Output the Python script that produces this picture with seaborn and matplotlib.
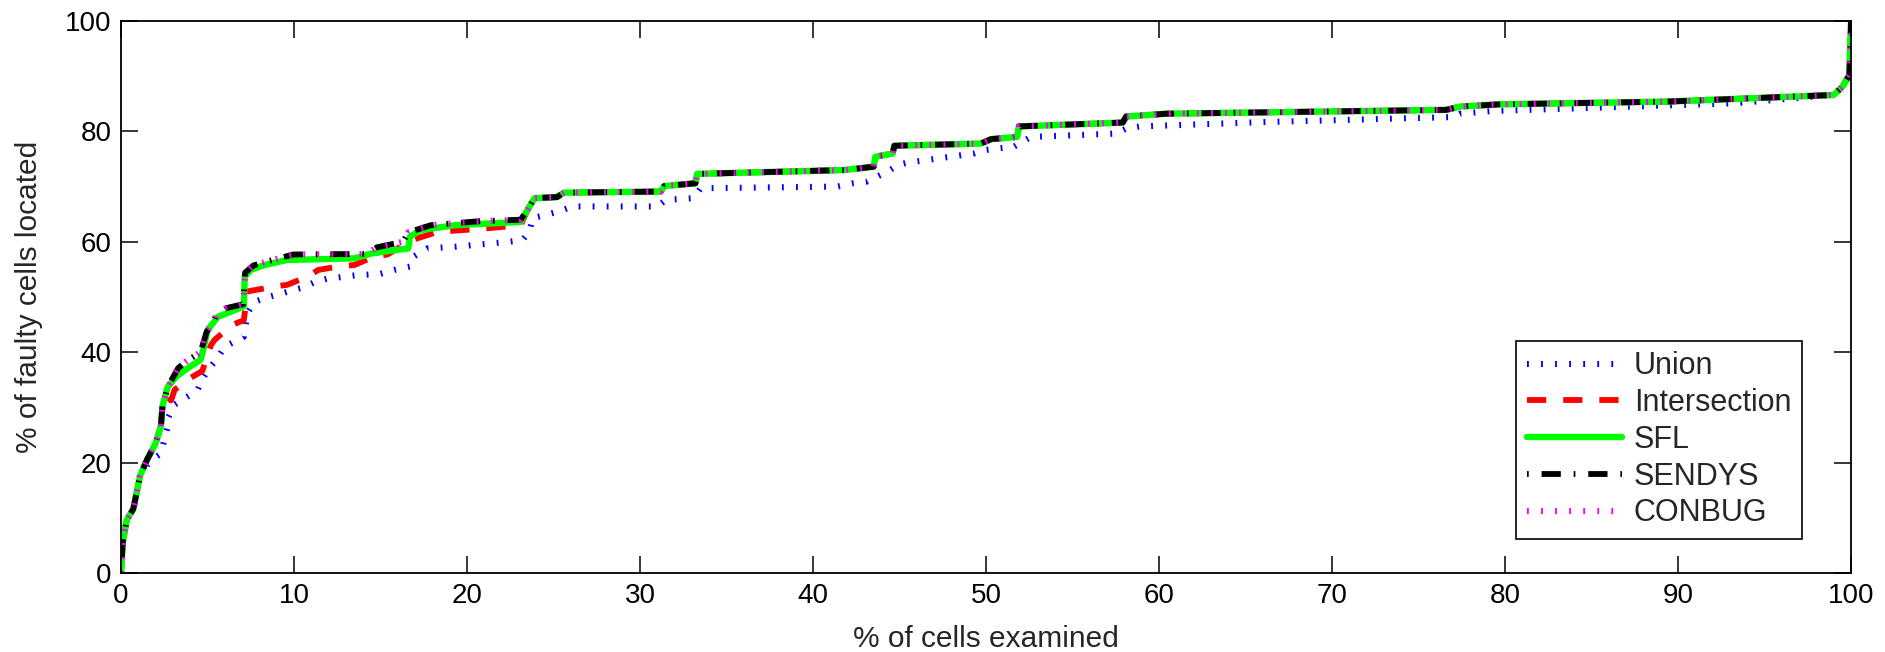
import numpy as np
import pandas as pd
import matplotlib
matplotlib.use("Agg")
import matplotlib.pyplot as plt
import seaborn as sns

# ---------------- data ----------------
sfl_x = [0, 0.1, 0.33, 0.71, 1.1, 1.5, 2.0, 2.3, 2.4, 2.7,
         3.2, 3.85, 4.6, 4.8, 5.0, 5.6, 6.4, 7.1, 7.15, 7.5,
         8.3, 9.6, 13.5, 14.5, 16.6, 16.7, 17.3, 19.3, 23.1, 23.5,
         23.9, 25.2, 25.6, 31.2, 31.4, 33.2, 33.3, 41.8, 43.5, 43.6,
         44.6, 44.7, 49.7, 50.3, 51.8, 51.9, 57.9, 58.1, 60.4, 76.6,
         77.4, 79.7, 89.4, 99.0, 99.5, 99.9, 100]
sfl_y = [0, 5.5, 9.6, 11.6, 17.6, 20.5, 23.5, 26.5, 30.3, 33.7,
         35.6, 37.1, 38.6, 41.0, 44.0, 46.4, 47.4, 48.3, 53.7, 54.9,
         55.8, 56.7, 57.0, 57.9, 58.8, 60.9, 62.1, 63.0, 63.6, 65.8,
         67.9, 68.1, 68.9, 69.1, 70.1, 70.6, 72.3, 73.0, 73.6, 75.4,
         76.0, 77.4, 77.8, 78.6, 79.0, 80.9, 81.6, 82.7, 83.2, 83.9,
         84.5, 84.9, 85.4, 86.6, 88.1, 90.2, 100]

sendys_x = [0, 0.1, 0.33, 0.71, 1.1, 1.5, 2.0, 2.3, 2.4, 2.7,
            3.3, 3.75, 4.6, 4.95, 5.3, 5.5, 6.1, 7.07, 7.17, 7.65,
            8.4, 9.96, 14.2, 14.8, 16.3, 16.6, 17.9, 20.6, 23.1, 23.5,
            23.9, 25.2, 25.6, 31.2, 31.4, 33.2, 33.3, 41.8, 43.5, 43.6,
            44.6, 44.7, 49.7, 50.3, 51.8, 51.9, 57.9, 58.1, 60.4, 76.6,
            77.4, 79.7, 89.4, 99.0, 99.5, 99.9, 100]
sendys_y = [0, 5.5, 9.6, 11.6, 17.6, 20.5, 23.5, 26.5, 30.3, 33.7,
            37.1, 38.3, 40.0, 43.7, 45.0, 46.7, 48.0, 48.7, 54.4, 55.7,
            56.4, 57.7, 57.8, 59.0, 60.0, 61.7, 63.0, 63.7, 64.0, 65.8,
            67.9, 68.1, 68.9, 69.1, 70.1, 70.6, 72.3, 73.0, 73.6, 75.4,
            76.0, 77.4, 77.8, 78.6, 79.0, 80.9, 81.6, 82.7, 83.2, 83.9,
            84.5, 84.9, 85.4, 86.6, 88.1, 90.2, 100]

conbug_x = list(sendys_x)
conbug_y = list(sendys_y)

inter_x = [0, 0.1, 0.33, 0.71, 1.1, 1.5, 2.0, 2.3, 2.4, 2.7,
           2.9, 3.1, 4.05, 4.7, 5.2, 5.4, 6.4, 7.1, 7.3, 8.9,
           9.6, 10.8, 11.4, 12.5, 13.5, 14.6, 15.4, 16.8, 18.3, 21.0,
           23.1, 23.5, 23.9, 25.2, 25.6, 31.2, 31.4, 33.2, 33.3, 41.8,
           43.5, 43.6, 44.6, 44.7, 49.7, 50.3, 51.8, 51.9, 57.9, 58.1,
           60.4, 76.6, 77.4, 79.7, 89.4, 99.0, 99.5, 99.9, 100]
inter_y = [0, 5.5, 9.6, 11.6, 17.6, 20.5, 23.5, 26.5, 30.0, 31.3,
           31.3, 33.2, 35.4, 36.6, 41.3, 42.2, 44.9, 45.8, 51.0, 51.9,
           52.2, 53.7, 54.9, 55.5, 55.8, 57.3, 57.7, 60.3, 61.8, 62.4,
           63.0, 65.8, 67.9, 68.1, 68.9, 69.1, 70.1, 70.6, 72.3, 73.0,
           73.6, 75.4, 76.0, 77.4, 77.8, 78.6, 79.0, 80.9, 81.6, 82.7,
           83.2, 83.9, 84.5, 84.9, 85.4, 86.6, 88.1, 90.2, 100]

union_x = [0, 0.1, 0.33, 0.71, 1.1, 1.5, 2.0, 2.3, 2.7, 2.75,
           3.1, 3.7, 4.4, 4.7, 5.1, 5.5, 6.0, 6.55, 7.1, 7.3,
           7.7, 8.5, 9.25, 9.9, 10.6, 11.2, 11.9, 13.5, 15.0, 15.8,
           16.7, 16.9, 17.7, 19.3, 22.4, 23.2, 23.6, 23.8, 24.6, 25.3,
           26.1, 31.0, 31.5, 33.1, 33.5, 41.4, 42.3, 43.1, 43.7, 44.3,
           44.9, 45.4, 49.3, 49.9, 50.6, 51.6, 52.6, 57.5, 58.1, 58.9,
           66.2, 77.0, 77.4, 79.3, 93.3, 99.0, 99.5, 99.9, 100]
union_y = [0, 5.5, 9.6, 11.6, 17.6, 19.5, 21.0, 21.6, 26.5, 28.3,
           30.5, 31.7, 33.0, 35.1, 37.1, 38.6, 41.0, 41.9, 42.8, 47.0,
           49.1, 50.0, 50.6, 51.2, 51.8, 52.7, 53.3, 53.9, 54.2, 54.9,
           55.5, 57.3, 58.8, 59.1, 60.0, 60.3, 61.8, 64.3, 64.9, 65.5,
           66.4, 66.4, 67.6, 67.9, 69.7, 70.0, 70.6, 70.9, 71.8, 72.7,
           73.9, 74.3, 76.0, 76.6, 76.9, 77.2, 79.0, 79.6, 80.5, 80.9,
           81.7, 82.6, 83.2, 83.7, 85.1, 86.6, 88.1, 90.2, 100]

series_names = ["Union", "Intersection", "SFL", "SENDYS", "CONBUG"]
x_ticks = [0, 10, 20, 30, 40, 50, 60, 70, 80, 90, 100]
y_ticks = [0, 20, 40, 60, 80, 100]

# ---------------- style ----------------
sns.set_style("ticks")
plt.rcParams["font.family"] = ["Liberation Sans", "DejaVu Sans"]

fig = plt.figure(figsize=(18.85, 6.52), dpi=100)
ax = fig.add_axes([0.0642, 0.1212, 0.9178, 0.8466])

styles = {
    "Union":        dict(color="#0000ff", lw=4.4, ls=(0, (0.3, 2.0))),
    "Intersection": dict(color="#ff0000", lw=4.2, ls=(0, (3.3, 2.9))),
    "SFL":          dict(color="#00ff00", lw=4.6, ls="-"),
    "SENDYS":       dict(color="#000000", lw=4.2, ls=(0, (0.3, 2.2, 3.3, 2.2))),
    "CONBUG":       dict(color="#ff00ff", lw=4.4, ls=(0, (0.3, 2.0))),
}
data = {
    "Union": (union_x, union_y),
    "Intersection": (inter_x, inter_y),
    "SFL": (sfl_x, sfl_y),
    "SENDYS": (sendys_x, sendys_y),
    "CONBUG": (conbug_x, conbug_y),
}

for name in series_names:
    xs, ys = data[name]
    df = pd.DataFrame({"x": xs, "y": ys})
    st = styles[name]
    sns.lineplot(data=df, x="x", y="y", sort=False, estimator=None, ax=ax,
                 color=st["color"], linewidth=st["lw"], linestyle=st["ls"],
                 label=name)

ax.set_xlim(0, 100)
ax.set_ylim(0, 100)
ax.set_xticks(x_ticks)
ax.set_yticks(y_ticks)
ax.set_xticklabels([str(t) for t in x_ticks])
ax.set_yticklabels([str(t) for t in y_ticks])
ax.tick_params(direction="in", top=True, right=True, length=12, width=1.1,
               labelsize=20, pad=7, colors="black")
for sp in ax.spines.values():
    sp.set_visible(True)
    sp.set_linewidth(1.3)
    sp.set_color("black")

ax.set_xlabel("% of cells examined", fontsize=21.5, labelpad=12)
ax.set_ylabel("% of faulty cells located", fontsize=21.5, labelpad=16)

leg = ax.legend(loc="lower right", bbox_to_anchor=(0.9717, 0.0616),
                borderaxespad=0, fontsize=22, handlelength=3.1,
                handletextpad=0.4, labelspacing=0.22, borderpad=0.35,
                frameon=True, fancybox=False, framealpha=1)
leg.get_frame().set_edgecolor("black")
leg.get_frame().set_linewidth(1.2)

fig.savefig("out.png", dpi=100)
